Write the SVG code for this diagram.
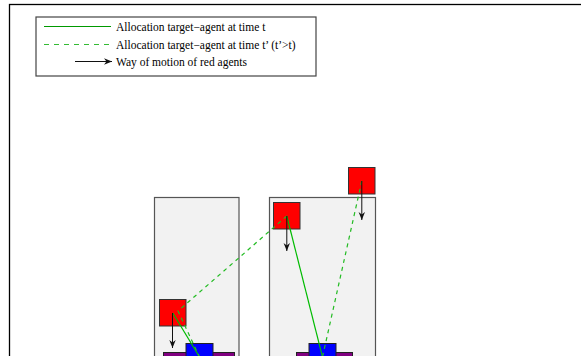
<svg xmlns="http://www.w3.org/2000/svg" width="581" height="356" viewBox="0 0 581 356">
  <defs>
    <marker id="arrow" viewBox="0 0 10 10" refX="10" refY="5" markerWidth="8" markerHeight="8" markerUnits="userSpaceOnUse" orient="auto">
      <path d="M0,1 L10,5 L0,9 L3,5 Z" fill="#111"/>
    </marker>
  </defs>
  <style>
    .frame { fill: #ffffff; stroke: #000; stroke-width: 1.3; }
    .legend { fill: #ffffff; stroke: #444; stroke-width: 1.2; }
    .label { font-family: "Liberation Serif", "Times New Roman", serif; font-size: 11.5px; fill: #000; }
    .zone { fill: #f2f2f2; stroke: #555; stroke-width: 1.2; }
    .agent { fill: #ff0000; stroke: #333; stroke-width: 1; }
    .target { fill: #0000ff; stroke: #222; stroke-width: 1; }
    .base { fill: #800080; stroke: #222; stroke-width: 1; }
    .alloc-now { fill: none; stroke: #00bb00; stroke-width: 1.2; }
    .alloc-later { fill: none; stroke: #22bb22; stroke-width: 1.2; stroke-dasharray: 4 4; }
    .motion { fill: none; stroke: #111; stroke-width: 1; marker-end: url(#arrow); }
  </style>

  <!-- outer frame -->
  <rect class="frame" x="9.5" y="4.5" width="600" height="400"/>

  <!-- legend -->
  <g id="legend">
    <rect class="legend" x="36" y="17" width="280" height="59"/>
    <line x1="44" y1="26.5" x2="111" y2="26.5" stroke="#009900" stroke-width="1.2"/>
    <text class="label" x="116" y="30.5">Allocation target−agent at time t</text>
    <line x1="44" y1="44.5" x2="111" y2="44.5" stroke="#33bb33" stroke-width="1.2" stroke-dasharray="5 5"/>
    <text class="label" x="116" y="48.5">Allocation target−agent at time t’ (t’&gt;t)</text>
    <line x1="75" y1="61.5" x2="112" y2="61.5" class="motion"/>
    <text class="label" x="116" y="65.5">Way of motion of red agents</text>
  </g>

  <!-- zones -->
  <g id="zone-left">
    <rect class="zone" x="154.5" y="197.5" width="84.5" height="200"/>
  </g>
  <g id="zone-right">
    <rect class="zone" x="269.5" y="197.5" width="106" height="200"/>
  </g>

  <!-- targets -->
  <g id="target-left">
    <rect class="base" x="163.5" y="352.5" width="71" height="20"/>
    <rect class="target" x="186" y="343.5" width="27" height="27"/>
  </g>
  <g id="target-right">
    <rect class="base" x="296.5" y="352.5" width="56" height="20"/>
    <rect class="target" x="309" y="343.5" width="27" height="27"/>
  </g>

  <!-- agents -->
  <g id="agent-left">
    <rect class="agent" x="159.5" y="299.5" width="26.5" height="26.5"/>
  </g>
  <g id="agent-mid">
    <rect class="agent" x="273.5" y="202.5" width="26.5" height="26.5"/>
  </g>
  <g id="agent-top">
    <rect class="agent" x="348.5" y="167.5" width="26.5" height="26.5"/>
  </g>

  <!-- connectors -->
  <g id="connectors">
    <line class="alloc-now" x1="172.8" y1="313" x2="199.5" y2="357"/>
    <line class="alloc-now" x1="286.8" y1="216" x2="322.5" y2="357"/>
    <polyline class="alloc-later" points="286.8,216 178,311 199.5,357"/>
    <line class="alloc-later" x1="361.8" y1="181" x2="322.5" y2="357"/>
    <line class="motion" x1="172.5" y1="313" x2="172.5" y2="348"/>
    <line class="motion" x1="286.8" y1="216" x2="286.8" y2="251"/>
    <line class="motion" x1="361.8" y1="181" x2="361.8" y2="220"/>
  </g>
</svg>
